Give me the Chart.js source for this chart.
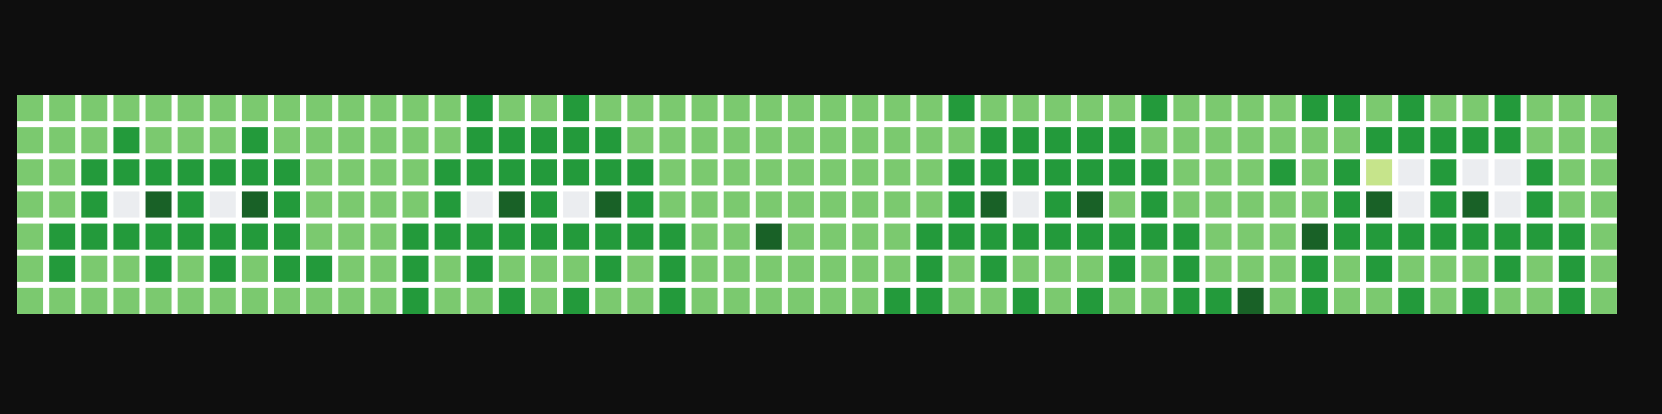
<!DOCTYPE html>
<html>
<head>
<meta charset="utf-8">
<script src="https://cdn.jsdelivr.net/npm/chart.js@4/dist/chart.umd.min.js"></script>
<style>
  html, body { margin: 0; padding: 0; background: #0e0e0e; }
  #wrap { width: 1662px; height: 414px; }
</style>
</head>
<body>
<div id="wrap"><canvas id="c" width="1662" height="414"></canvas></div>
<script>
// ---- Data ----
const weeks = ['W1','W2','W3','W4','W5','W6','W7','W8','W9','W10','W11','W12','W13','W14','W15','W16','W17','W18','W19','W20','W21','W22','W23','W24','W25','W26','W27','W28','W29','W30','W31','W32','W33','W34','W35','W36','W37','W38','W39','W40','W41','W42','W43','W44','W45','W46','W47','W48','W49','W50'];
const days = ['Sun','Mon','Tue','Wed','Thu','Fri','Sat'];
// activity level per cell (0 = none ... 4 = highest)
const sun = [2,2,2,2,2,2,2,2,2,2,2,2, 2,2,3,2,2,3,2,2,2,2,2,2,2, 2,2,2,2,3,2,2,2,2,2,3,2, 2,2,2,3,3,2,3,2,2,3,2,2,2];
const mon = [2,2,2,3,2,2,2,3,2,2,2,2, 2,2,3,3,3,3,3,2,2,2,2,2,2, 2,2,2,2,2,3,3,3,3,3,2,2, 2,2,2,2,2,3,3,3,3,3,2,2,2];
const tue = [2,2,3,3,3,3,3,3,3,2,2,2, 2,3,3,3,3,3,3,3,2,2,2,2,2, 2,2,2,2,3,3,3,3,3,3,3,2, 2,2,3,2,3,1,0,3,0,0,3,2,2];
const wed = [2,2,3,0,4,3,0,4,3,2,2,2, 2,3,0,4,3,0,4,3,2,2,2,2,2, 2,2,2,2,3,4,0,3,4,2,3,2, 2,2,2,2,3,4,0,3,4,0,3,2,2];
const thu = [2,3,3,3,3,3,3,3,3,2,2,2, 3,3,3,3,3,3,3,3,3,2,2,4,2, 2,2,2,3,3,3,3,3,3,3,3,3, 2,2,2,4,3,3,3,3,3,3,3,3,2];
const fri = [2,3,2,2,3,2,3,2,3,3,2,2, 3,2,3,2,2,2,3,2,3,2,2,2,2, 2,2,2,3,2,3,2,2,2,3,2,3, 2,2,2,3,2,3,2,2,2,3,2,3,2];
const sat = [2,2,2,2,2,2,2,2,2,2,2,2, 3,2,2,3,2,3,2,2,3,2,2,2,2, 2,2,3,3,2,2,3,2,3,2,2,3, 3,4,2,3,2,2,3,2,3,2,2,3,2];
const rows = [sun, mon, tue, wed, thu, fri, sat];

// ---- Style ----
const palette = ['#ebedf0', '#c6e48b', '#7bc96f', '#239a3b', '#196127'];
const BAR_PCT = 26 / 32.12;
const ROW_GAP = 3 / 32.14;

const datasets = rows.map((levels, r) => ({
  label: days[r],
  data: levels.map(() => [r + ROW_GAP, r + 1 - ROW_GAP]),
  backgroundColor: levels.map(v => palette[v]),
  borderWidth: 0,
  borderSkipped: false,
  barPercentage: BAR_PCT,
  categoryPercentage: 1,
  grouped: false
}));

const whiteBg = {
  id: 'whiteBg',
  beforeDatasetsDraw(chart) {
    const first = chart.getDatasetMeta(0).data[0];
    const lastMeta = chart.getDatasetMeta(rows.length - 1).data;
    const last = lastMeta[lastMeta.length - 1];
    if (!first || !last) return;
    const left = first.x - first.width / 2;
    const right = last.x + last.width / 2;
    const top = Math.min(first.y, first.base);
    const bottom = Math.max(last.y, last.base);
    const ctx = chart.ctx;
    ctx.save();
    ctx.fillStyle = '#ffffff';
    ctx.fillRect(left, top, right - left, bottom - top);
    ctx.restore();
  }
};

new Chart(document.getElementById('c'), {
  type: 'bar',
  data: { labels: weeks, datasets },
  options: {
    responsive: false,
    animation: false,
    layout: { padding: { left: 14, right: 42, top: 92, bottom: 97 } },
    plugins: { legend: { display: false }, tooltip: { enabled: false } },
    scales: {
      x: { display: false, offset: true },
      y: { display: false, min: 0, max: 7, reverse: true }
    }
  },
  plugins: [whiteBg]
});
</script>
</body>
</html>
